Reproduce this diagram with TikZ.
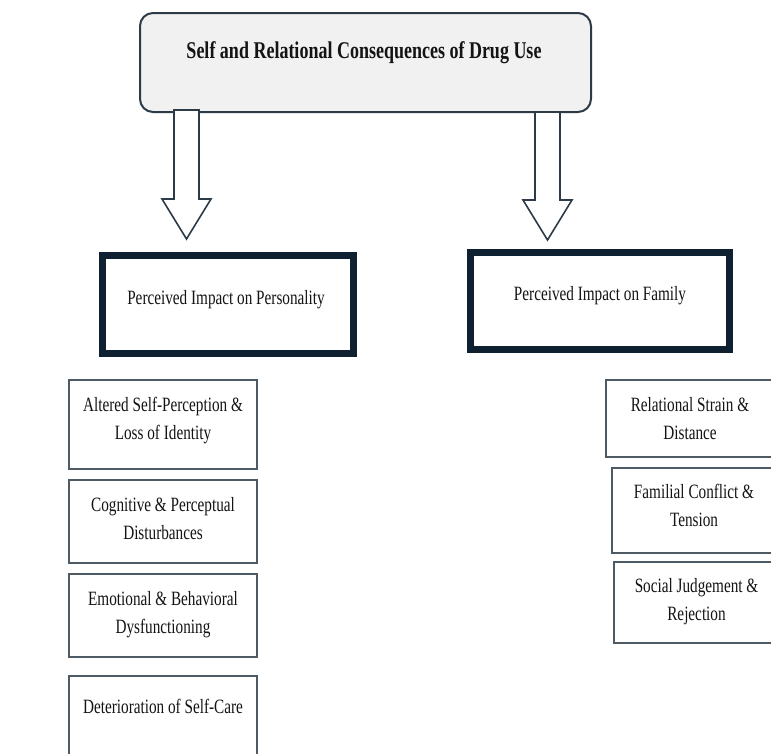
\documentclass[tikz,border=0pt]{standalone}
\usepackage{fontspec}
\newfontfamily\diag{Liberation Serif}[FakeStretch=0.75]

\definecolor{headfill}{HTML}{F1F1F1}
\definecolor{headline}{HTML}{2C3B47}
\definecolor{navy}{HTML}{0F2131}
\definecolor{cellline}{HTML}{4F5B64}
\definecolor{arrowline}{HTML}{2C3B47}
\definecolor{ink}{HTML}{141414}

% hollow block arrow: #1 = x of the axis, #2 = top of the shaft, #3 = y of the tip
\newcommand{\blockarrow}[3]{%
  \draw[bigarrow] (#1-12.5,#2) -- (#1-12.5,#3-40) -- (#1-24.5,#3-40) -- (#1,#3)
    -- (#1+24.5,#3-40) -- (#1+12.5,#3-40) -- (#1+12.5,#2) -- cycle;}

\tikzset{
  headbox/.style={draw=headline, line width=2pt, fill=headfill, rounded corners=13pt,
    minimum width=451pt, minimum height=99pt, inner sep=0pt},
  themebox/.style={draw=navy, line width=7pt, fill=white, inner sep=0pt},
  cellbox/.style={draw=cellline, line width=1.4pt, fill=white, inner sep=0pt},
  celltext/.style={anchor=base, inner sep=0pt, text=ink,
    font=\diag\fontsize{20.3}{28}\selectfont},
  titletext/.style={anchor=base, inner sep=0pt, text=ink,
    font=\diag\bfseries\fontsize{24}{28}\selectfont},
  bigarrow/.style={draw=arrowline, line width=1.6pt, fill=white, line join=miter},
}
\newcommand{\lines}[1]{\parbox[t]{220pt}{\centering #1}}

\begin{document}
\begin{tikzpicture}[x=1pt,y=-1pt]
\useasboundingbox (0,0) rectangle (771,753);
\begin{scope}
\clip (0,0) rectangle (771,753);

% main heading
\node[headbox] (head) at (365.5,62.5) {};
\node[titletext] (headtext) at (364,58.5) {Self and Relational Consequences of Drug Use};

% arrows down to the two themes
\coordinate (ltip) at (186.5,239);
\coordinate (rtip) at (547.5,240);
\blockarrow{186.5}{110}{239}
\blockarrow{547.5}{112}{240}

% themes
\node[themebox, minimum width=251pt, minimum height=98pt] (pers) at (228,304.5) {};
\node[celltext] (perstext) at (226,304) {Perceived Impact on Personality};
\node[themebox, minimum width=259pt, minimum height=97pt] (fam) at (600,301) {};
\node[celltext] (famtext) at (600,300) {Perceived Impact on Family};

% personality sub-themes
\node[cellbox, minimum width=188pt, minimum height=89pt] (p1) at (163,424.5) {};
\node[celltext] (p1t) at (163,411.5) {\lines{Altered Self-Perception \&\\Loss of Identity}};
\node[cellbox, minimum width=188pt, minimum height=83pt] (p2) at (163,521.5) {};
\node[celltext] (p2t) at (163,511.5) {\lines{Cognitive \& Perceptual\\Disturbances}};
\node[cellbox, minimum width=188pt, minimum height=83pt] (p3) at (163,615.5) {};
\node[celltext] (p3t) at (163,605) {\lines{Emotional \& Behavioral\\Dysfunctioning}};
\node[cellbox, minimum width=188pt, minimum height=89pt] (p4) at (163,720.5) {};
\node[celltext] (p4t) at (163,713) {Deterioration of Self-Care};

% family sub-themes
\node[cellbox, minimum width=168pt, minimum height=77pt] (f1) at (690,418.5) {};
\node[celltext] (f1t) at (690,411.5) {\lines{Relational Strain \&\\Distance}};
\node[cellbox, minimum width=164pt, minimum height=85pt] (f2) at (694,510.5) {};
\node[celltext] (f2t) at (694,498.5) {\lines{Familial Conflict \&\\Tension}};
\node[cellbox, minimum width=165pt, minimum height=81pt] (f3) at (696.5,602.5) {};
\node[celltext] (f3t) at (696.5,592) {\lines{Social Judgement \&\\Rejection}};
\end{scope}
\end{tikzpicture}
\end{document}
